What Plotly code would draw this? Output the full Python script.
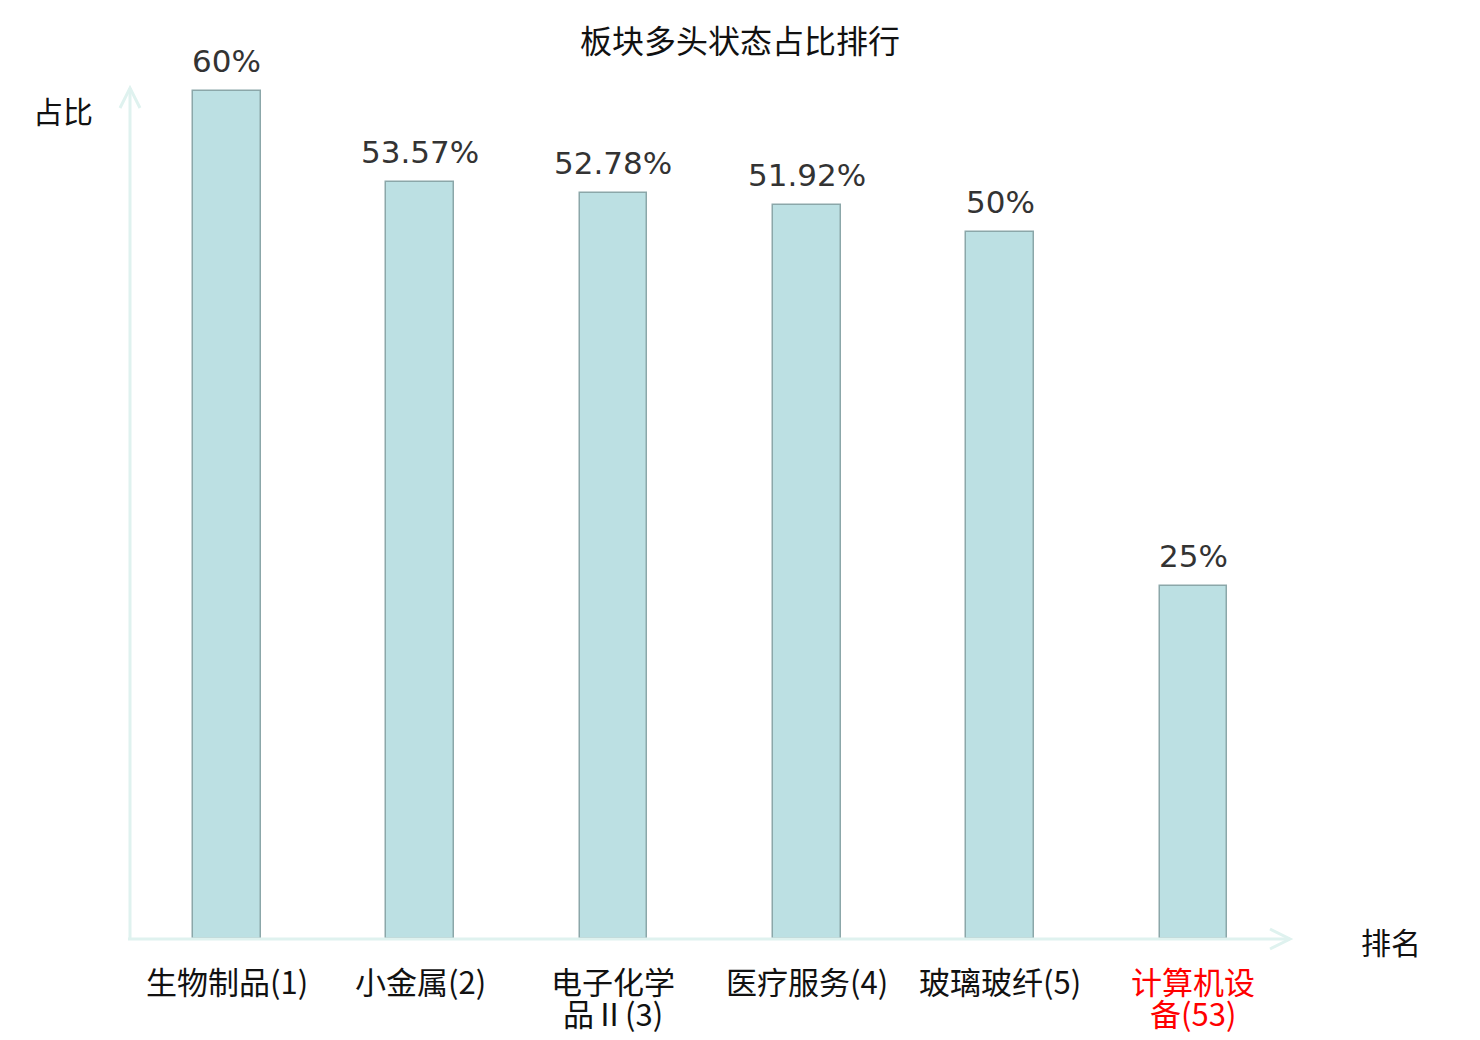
import plotly.graph_objects as go

categories = ["生物制品(1)", "小金属(2)", "电子化学品Ⅱ(3)", "医疗服务(4)", "玻璃玻纤(5)", "计算机设备(53)"]
tick_labels = ["生物制品(1)", "小金属(2)", "电子化学<br>品Ⅱ(3)", "医疗服务(4)", "玻璃玻纤(5)",
               "计算机设<br>备(53)"]
tick_colors = ["#111111", "#111111", "#111111", "#111111", "#111111", "#ff0000"]
values = [60, 53.57, 52.78, 51.92, 50, 25]
value_labels = ["60%", "53.57%", "52.78%", "51.92%", "50%", "25%"]

W, H = 1480, 1040
OFF = 8  # page body margin
PW, PH = 1160, 851
ML, MT = 130 - OFF, 88 - OFF
MR, MB = W - ML - PW, H - MT - PH
AXIS_COLOR = "#dff2ef"
CJK = "Noto Sans CJK SC"


def px_x(x):
    return (x - OFF - ML) / PW


def px_y(y):
    return (MT + PH - (y - OFF)) / PH


fig = go.Figure()
fig.add_trace(go.Bar(
    x=list(range(len(categories))),
    y=values,
    width=0.35,
    marker=dict(color="#bce0e3", line=dict(color="#8ba7a9", width=1.5)),
    hoverinfo="skip",
))

annotations = []
for i, (v, lab) in enumerate(zip(values, value_labels)):
    annotations.append(dict(
        x=i, y=v, xref="x", yref="y", text=lab, showarrow=False,
        yanchor="bottom", yshift=10,
        font=dict(family="DejaVu Sans", size=31, color="#333333"),
    ))

# category labels, one annotation per line for tight line spacing
for i, (lab, col) in enumerate(zip(tick_labels, tick_colors)):
    for j, line in enumerate(lab.split("<br>")):
        annotations.append(dict(
            x=i, y=0, xref="x", yref="paper", text=line, showarrow=False,
            xanchor="center", yanchor="middle", yshift=-41 - 32 * j,
            font=dict(family=CJK, size=31, color=col),
        ))

annotations.append(dict(
    x=px_x(63), y=px_y(110), xref="paper", yref="paper",
    text="占比", showarrow=False, xanchor="center", yanchor="middle",
    font=dict(family=CJK, size=30, color="#111111"),
))
annotations.append(dict(
    x=px_x(1391), y=px_y(941), xref="paper", yref="paper",
    text="排名", showarrow=False, xanchor="center", yanchor="middle",
    font=dict(family=CJK, size=30, color="#111111"),
))

dx = 10 / PW
dy = 20 / PH
ax_x = 10 / PH
ax_dx = 20 / PW
shapes = [
    dict(type="path", xref="paper", yref="paper",
         path=f"M {-dx} {1 - dy} L 0 1 L {dx} {1 - dy}",
         line=dict(color=AXIS_COLOR, width=3)),
    dict(type="path", xref="paper", yref="paper",
         path=f"M {1 - ax_dx} {ax_x} L 1 0 L {1 - ax_dx} {-ax_x}",
         line=dict(color=AXIS_COLOR, width=3)),
    dict(type="line", xref="paper", yref="paper", x0=0, x1=0, y0=0, y1=1,
         line=dict(color=AXIS_COLOR, width=3)),
    dict(type="line", xref="paper", yref="paper", x0=-2 / PW, x1=1, y0=0, y1=0,
         line=dict(color=AXIS_COLOR, width=3)),
]

fig.update_layout(
    width=W, height=H,
    margin=dict(l=ML, r=MR, t=MT, b=MB),
    plot_bgcolor="white", paper_bgcolor="white",
    showlegend=False,
    title=dict(text="板块多头状态占比排行", x=(740 - OFF) / W, xref="container", xanchor="center",
               y=1 - (42 - OFF) / H, yref="container", yanchor="middle",
               font=dict(family=CJK, size=32, color="#111111")),
    xaxis=dict(range=[-0.5, 5.5], tickmode="array", tickvals=list(range(len(categories))),
               ticktext=[""] * len(categories), showline=False, showgrid=False, zeroline=False,
               ticks=""),
    yaxis=dict(range=[0, 60.21], showticklabels=False, showgrid=False, zeroline=False,
               showline=False, ticks=""),
    annotations=annotations,
    shapes=shapes,
    bargap=0,
)

fig.write_html("out.html")
